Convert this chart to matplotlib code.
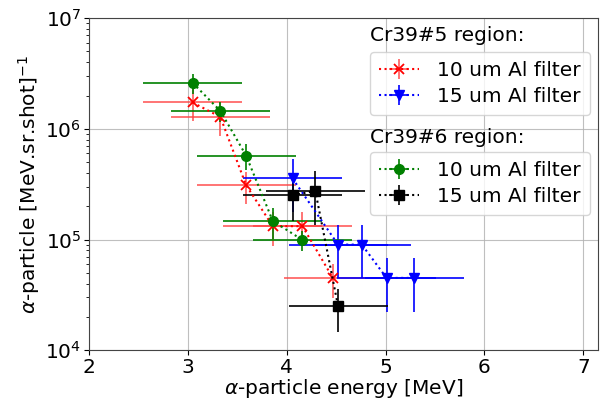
import matplotlib
matplotlib.use("Agg")
import matplotlib.pyplot as plt
import numpy as np

# Cr39#5, 10 um Al filter
r_x = [3.05, 3.33, 3.59, 3.86, 4.16, 4.47]
r_y = [1.73e6, 1.28e6, 3.1e5, 1.32e5, 1.32e5, 4.45e4]
r_yerr = [5.6e5, 4.2e5, 1.0e5, 4.4e4, 4.4e4, 1.5e4]
r_xerr = [0.5, 0.5, 0.5, 0.5, 0.5, 0.5]

# Cr39#5, 15 um Al filter
b_x = [4.06, 4.52, 4.76, 5.01, 5.29]
b_y = [3.56e5, 9.0e4, 9.0e4, 4.5e4, 4.5e4]
b_yerr = [1.8e5, 4.5e4, 4.5e4, 2.3e4, 2.3e4]
b_xerr = [0.5, 0.5, 0.5, 0.5, 0.5]

# Cr39#6, 10 um Al filter
g_x = [3.05, 3.33, 3.59, 3.86, 4.16]
g_y = [2.6e6, 1.45e6, 5.74e5, 1.47e5, 9.9e4]
g_yerr = [5.5e5, 3.0e5, 1.5e5, 4.5e4, 2.0e4]
g_xerr = [0.5, 0.5, 0.5, 0.5, 0.5]

# Cr39#6, 15 um Al filter
k_x = [4.06, 4.29, 4.52]
k_y = [2.51e5, 2.75e5, 2.5e4]
k_yerr = [1.05e5, 1.4e5, 1.05e4]
k_xerr = [0.5, 0.5, 0.5]

label = "10 um Al filter"
label15 = "15 um Al filter"

FS = 14.5
plt.rcParams['font.family'] = ['DejaVu Sans']
fig = plt.figure(figsize=(6.0, 4.03), dpi=100)
ax = fig.add_axes([0.148, 0.131, 0.849, 0.824])

kw = dict(linestyle=':', linewidth=1.5, elinewidth=1.2, capsize=0)
h_r = ax.errorbar(r_x, r_y, xerr=r_xerr, yerr=r_yerr, color='red', marker='x',
                  markersize=7, markeredgewidth=1.3, ecolor=(1, 0.25, 0.25, 0.85), **kw)
h_b = ax.errorbar(b_x, b_y, xerr=b_xerr, yerr=b_yerr, color='blue', marker='v',
                  markersize=7, ecolor='blue', **kw)
h_g = ax.errorbar(g_x, g_y, xerr=g_xerr, yerr=g_yerr, color='green', marker='o',
                  markersize=7, ecolor='green', **kw)
h_k = ax.errorbar(k_x, k_y, xerr=k_xerr, yerr=k_yerr, color='black', marker='s',
                  markersize=7, ecolor='black', **kw)

ax.set_yscale('log')
ax.set_xlim(2, 7.15)
ax.set_ylim(1e4, 1e7)
ax.set_xticks([2, 3, 4, 5, 6, 7])
ax.grid(True, which='major', color='#b0b0b0', linewidth=0.8, alpha=0.8)
ax.tick_params(labelsize=FS, pad=2)
ax.set_xlabel(r'$\alpha$-particle energy [MeV]', fontsize=FS, labelpad=0)
ax.set_ylabel(r'$\alpha$-particle [MeV.sr.shot]$^{-1}$', fontsize=FS, labelpad=2)
for s in ax.spines.values():
    s.set_color('#444444')

lkw = dict(fontsize=FS, loc='upper left', borderaxespad=0, handlelength=2.0,
           borderpad=0.45, labelspacing=0.35, handletextpad=0.9)
leg1 = ax.legend([h_r, h_b], [label, label15], bbox_to_anchor=(0.552, 0.898), **lkw)
ax.add_artist(leg1)
leg2 = ax.legend([h_g, h_k], [label, label15], bbox_to_anchor=(0.552, 0.596), **lkw)
ax.text(0.553, 0.975, 'Cr39#5 region:', transform=ax.transAxes, fontsize=FS,
        va='top', ha='left')
ax.text(0.553, 0.67, 'Cr39#6 region:', transform=ax.transAxes, fontsize=FS,
        va='top', ha='left')

fig.savefig('out.png', dpi=100)
